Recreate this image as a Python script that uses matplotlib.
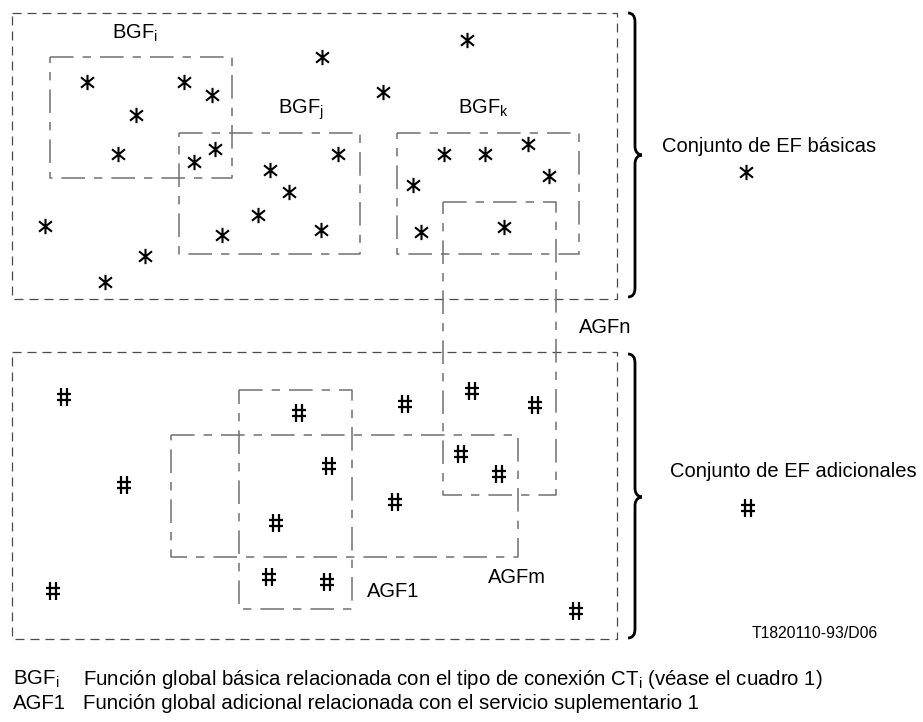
import matplotlib
matplotlib.use("Agg")
import matplotlib.pyplot as plt
from matplotlib.path import Path
from matplotlib.patches import PathPatch

plt.rcParams['font.family'] = ['Liberation Sans', 'DejaVu Sans']
plt.rcParams['mathtext.fontset'] = 'custom'
plt.rcParams['mathtext.rm'] = 'Liberation Sans'
plt.rcParams['mathtext.it'] = 'Liberation Sans'
plt.rcParams['lines.scale_dashes'] = False

# elementos funcionales basicos (*) y adicionales (#), coordenadas en pixeles
basicas_x = [87, 184, 212, 136, 118, 215, 194, 338, 270, 289, 258, 222, 321,
             45, 145, 105, 322, 383, 467, 444, 485, 528, 413, 549, 421, 504]
basicas_y = [82, 82, 95, 115, 154, 149, 162, 154, 170, 192, 215, 235, 230,
             226, 256, 282, 57, 92, 40, 154, 154, 144, 185, 176, 232, 227]
adicionales_x = [64, 124, 53, 276, 269, 299, 329, 327, 395, 405, 472, 535, 461, 499, 576]
adicionales_y = [397, 485, 591, 523, 577, 413, 466, 582, 502, 404, 391, 405, 454, 474, 611]

# conjuntos (x0, y0, x1, y1)
conjuntos = [(12, 13, 617, 299), (12, 352, 617, 639)]
# funciones globales (x0, y0, x1, y1)
funciones = {
    'BGFi': (50, 57, 232, 178),
    'BGFj': (179, 133, 360, 254),
    'BGFk': (397, 133, 579, 254),
    'AGFn': (443, 202, 556, 495),
    'AGFm': (171, 435, 518, 557),
    'AGF1': (239, 390, 352, 609),
}
etiquetas = [
    ('BGF$_{i}$', 112, 39), ('BGF$_{j}$', 278, 114), ('BGF$_{k}$', 458, 114),
    ('AGFn', 579, 333), ('AGFm', 488, 583), ('AGF1', 367, 597),
]


def caja(ax, b, **kw):
    x0, y0, x1, y1 = b
    ax.plot([x0, x1, x1, x0, x0], [y0, y0, y1, y1, y0], **kw)


def llave(ax, x, y0, y1, ym):
    # llave "}" dibujada con curvas de Bezier
    r = 9
    v = [(x - 7, y0), (x, y0), (x, y0 + r), (x, ym - r),
         (x, ym), (x + 7, ym), (x + 7, ym),
         (x + 7, ym), (x, ym), (x, ym + r),
         (x, y1 - r), (x, y1), (x - 7, y1)]
    c = [Path.MOVETO, Path.CURVE3, Path.CURVE3, Path.LINETO,
         Path.CURVE4, Path.CURVE4, Path.CURVE4,
         Path.CURVE4, Path.CURVE4, Path.CURVE4,
         Path.LINETO, Path.CURVE3, Path.CURVE3]
    ax.add_patch(PathPatch(Path(v, c), fill=False, lw=2.0, ec='black'))


# marcadores a medida
asterisco = Path([(0, -1), (0, 1), (-0.85, -0.68), (0.85, 0.68), (-0.85, 0.68), (0.85, -0.68)],
                 [Path.MOVETO, Path.LINETO] * 3)
almohadilla = Path([(-0.28, -1), (-0.28, 1), (0.28, -1), (0.28, 1),
                    (-0.78, -0.3), (0.78, -0.3), (-0.78, 0.3), (0.78, 0.3)],
                   [Path.MOVETO, Path.LINETO] * 4)

fig = plt.figure(figsize=(9.23, 7.22), dpi=100)
ax = fig.add_axes([0, 0, 1, 1])
ax.set_xlim(0, 923)
ax.set_ylim(722, 0)
ax.axis('off')

for b in conjuntos:
    caja(ax, b, color='#4a4a4a', lw=0.9, linestyle=(0, (6.5, 4.3)))
for nombre, b in funciones.items():
    caja(ax, b, color='#707070', lw=1.1, linestyle=(0, (17, 6.5, 6, 6.5)))

llave(ax, 635, 13, 297, 155)
llave(ax, 635, 354, 638, 497)

ax.plot(basicas_x, basicas_y, ls='none', marker=asterisco, ms=11, mew=1.5, color='black')
ax.plot(adicionales_x, adicionales_y, ls='none', marker=almohadilla, ms=13, mew=1.6, color='black')

for txt, x, y in etiquetas:
    ax.text(x, y, txt, fontsize=14.5, va='baseline', ha='left')

ax.text(662, 152, 'Conjunto de EF básicas', fontsize=14.5, va='baseline')
ax.plot([746], [172], ls='none', marker=asterisco, ms=11, mew=1.5, color='black')
ax.text(670, 477, 'Conjunto de EF adicionales', fontsize=14.5, va='baseline')
ax.plot([748], [508], ls='none', marker=almohadilla, ms=13, mew=1.6, color='black')
ax.text(752, 638, 'T1820110-93/D06', fontsize=11.3, va='baseline')

ax.text(13, 685, 'BGF$_{i}$', fontsize=14.7, va='baseline')
ax.text(83, 685, 'Función global básica relacionada con el tipo de conexión CT$_{i}$ (véase el cuadro 1)',
        fontsize=14.7, va='baseline')
ax.text(13, 709, 'AGF1', fontsize=14.7, va='baseline')
ax.text(83, 709, 'Función global adicional relacionada con el servicio suplementario 1',
        fontsize=14.7, va='baseline')

fig.savefig('out.png', dpi=100)
